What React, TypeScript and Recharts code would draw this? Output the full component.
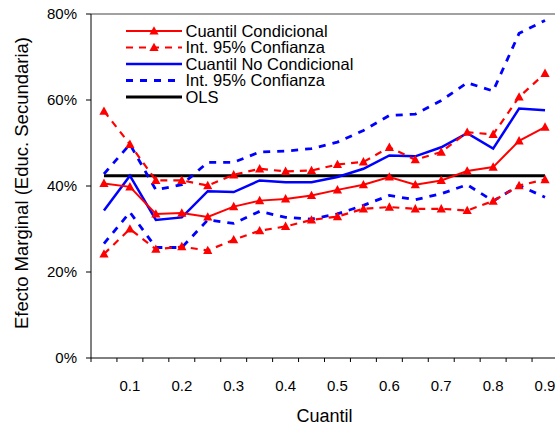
import React from "react";
import { LineChart, Line, XAxis, YAxis, ReferenceLine, Legend } from "recharts";

const quantiles = [0.05, 0.1, 0.15, 0.2, 0.25, 0.3, 0.35, 0.4, 0.45, 0.5, 0.55, 0.6, 0.65, 0.7, 0.75, 0.8, 0.85, 0.9];
const condicional = [0.406, 0.398, 0.335, 0.337, 0.328, 0.352, 0.366, 0.37, 0.378, 0.391, 0.403, 0.421, 0.403, 0.413, 0.435, 0.444, 0.505, 0.537];
const condUpper = [0.574, 0.497, 0.413, 0.413, 0.401, 0.426, 0.44, 0.434, 0.436, 0.45, 0.456, 0.49, 0.461, 0.479, 0.525, 0.52, 0.607, 0.662];
const condLower = [0.242, 0.3, 0.253, 0.259, 0.25, 0.275, 0.296, 0.306, 0.321, 0.329, 0.347, 0.351, 0.347, 0.347, 0.343, 0.365, 0.401, 0.415];
const noCondicional = [0.343, 0.424, 0.321, 0.327, 0.388, 0.386, 0.413, 0.409, 0.409, 0.421, 0.44, 0.471, 0.469, 0.49, 0.523, 0.487, 0.58, 0.576];
const noCondUpper = [0.428, 0.497, 0.391, 0.403, 0.455, 0.455, 0.479, 0.481, 0.487, 0.502, 0.529, 0.564, 0.567, 0.599, 0.64, 0.621, 0.755, 0.785];
const noCondLower = [0.266, 0.339, 0.257, 0.257, 0.321, 0.313, 0.341, 0.327, 0.323, 0.335, 0.355, 0.378, 0.368, 0.382, 0.403, 0.365, 0.401, 0.374];
const ols = [0.424, 0.424, 0.424, 0.424, 0.424, 0.424, 0.424, 0.424, 0.424, 0.424, 0.424, 0.424, 0.424, 0.424, 0.424, 0.424, 0.424, 0.424];

const xTickLabels = [0.1, 0.2, 0.3, 0.4, 0.5, 0.6, 0.7, 0.8, 0.9];
const xBoundaries = [0.025, 0.075, 0.125, 0.175, 0.225, 0.275, 0.325, 0.375, 0.425, 0.475, 0.525, 0.575, 0.625, 0.675, 0.725, 0.775, 0.825, 0.875, 0.925];
const yTicks = [0, 0.2, 0.4, 0.6, 0.8];

const legendItems = [
  { name: "Cuantil Condicional", color: "#FF0000", dash: undefined, marker: true, width: 2 },
  { name: "Int. 95% Confianza", color: "#FF0000", dash: "7 6", marker: true, width: 2.2 },
  { name: "Cuantil No Condicional", color: "#0000FF", dash: undefined, marker: false, width: 2.5 },
  { name: "Int. 95% Confianza", color: "#0000FF", dash: "7 7", marker: false, width: 2.8 },
  { name: "OLS", color: "#000000", dash: undefined, marker: false, width: 3 },
];

const data = quantiles.map((q, i) => ({
  q,
  cond: condicional[i],
  condUp: condUpper[i],
  condLo: condLower[i],
  unc: noCondicional[i],
  uncUp: noCondUpper[i],
  uncLo: noCondLower[i],
  ols: ols[i],
}));

const xTicks = [...xBoundaries, ...xTickLabels].sort((a, b) => a - b);
const FONT = "'Liberation Sans', Arial, sans-serif";

const near = (a: number, b: number) => Math.abs(a - b) < 1e-6;

const XTick = (props: any) => {
  const { x, y, payload } = props;
  const v = payload.value as number;
  const isBoundary = xBoundaries.some((b) => near(b, v));
  const isLabel = xTickLabels.some((l) => near(l, v));
  return (
    <g>
      {isBoundary && <line x1={x} x2={x} y1={y} y2={y + 4} stroke="#000" strokeWidth={1} />}
      {isLabel && (
        <text x={x} y={y + 22.5} dy="0.71em" textAnchor="middle" fontSize={15} fill="#000" fontFamily={FONT}>
          {v.toFixed(1)}
        </text>
      )}
    </g>
  );
};

const triangle = (color: string) => (props: any) => {
  const { cx, cy, index, dataKey } = props;
  if (cx == null || cy == null) return <g key={`${dataKey}-${index}`} />;
  return (
    <polygon
      key={`${dataKey}-${index}`}
      points={`${cx},${cy - 4.8} ${cx + 4.6},${cy + 3.6} ${cx - 4.6},${cy + 3.6}`}
      fill={color}
      stroke="none"
    />
  );
};

const LegendContent = () => (
  <svg width={400} height={120} style={{ position: "absolute", left: 0, top: 0, overflow: "visible" }}>
    {legendItems.map((it, i) => {
      const cy = 31 + i * 16.5;
      return (
        <g key={i}>
          <line x1={126} x2={182} y1={cy} y2={cy} stroke={it.color} strokeWidth={it.width} strokeDasharray={it.dash} />
          {it.marker && (
            <polygon points={`${154},${cy - 4.8} ${158.6},${cy + 3.6} ${149.4},${cy + 3.6}`} fill={it.color} />
          )}
          <text x={185.5} y={cy} dy="0.36em" fontSize={16.5} fill="#000" fontFamily={FONT}>
            {it.name}
          </text>
        </g>
      );
    })}
  </svg>
);

const YLabel = (props: any) => {
  const vb = props.viewBox || {};
  const cx = (vb.x ?? 0) + 28;
  const cy = (vb.y ?? 0) + (vb.height ?? 0) / 2 - 3;
  return (
    <text
      x={cx}
      y={cy}
      transform={`rotate(-90, ${cx}, ${cy})`}
      textAnchor="middle"
      fontSize={18.5}
      fill="#000"
      fontFamily={FONT}
    >
      Efecto Marginal (Educ. Secundaria)
    </text>
  );
};

export default function App() {
  return (
    <div style={{ position: "absolute", left: 0, top: 0, width: 555, height: 427, overflow: "hidden", background: "#fff" }}>
      <LineChart
        width={558}
        height={427}
        data={data}
        margin={{ top: 14, right: 0, left: 0, bottom: 0 }}
        style={{ fontFamily: FONT }}
      >
        <XAxis
          dataKey="q"
          type="number"
          domain={[0.025, 0.925]}
          ticks={xTicks}
          interval={0}
          tickSize={0}
          tickMargin={0}
          tick={<XTick />}
          axisLine={{ stroke: "#000", strokeWidth: 1 }}
          height={69}
          label={{ value: "Cuantil", position: "insideBottom", offset: 5, fontSize: 18, fill: "#000" }}
        />
        <YAxis
          type="number"
          domain={[0, 0.8]}
          ticks={yTicks}
          interval={0}
          width={91}
          tickSize={5}
          tickMargin={9}
          tick={{ fontSize: 15, fill: "#000" }}
          tickLine={{ stroke: "#000" }}
          axisLine={{ stroke: "#000", strokeWidth: 1 }}
          tickFormatter={(v: number) => `${Math.round(v * 100)}%`}
          label={<YLabel />}
        />
        <ReferenceLine y={0.8} stroke="#444" strokeWidth={1.2} ifOverflow="extendDomain" />
        <Line dataKey="ols" name="OLS" stroke="#000" strokeWidth={3} dot={false} activeDot={false} isAnimationActive={false} />
        <Line dataKey="uncUp" name="Int. 95% Confianza" stroke="#0000FF" strokeWidth={2.8} strokeDasharray="7 7" dot={false} activeDot={false} isAnimationActive={false} />
        <Line dataKey="uncLo" name="Int. 95% Confianza (inf)" stroke="#0000FF" strokeWidth={2.8} strokeDasharray="7 7" dot={false} activeDot={false} isAnimationActive={false} />
        <Line dataKey="unc" name="Cuantil No Condicional" stroke="#0000FF" strokeWidth={2.5} dot={false} activeDot={false} isAnimationActive={false} />
        <Line dataKey="condUp" name="Int. 95% Confianza" stroke="#FF0000" strokeWidth={2.2} strokeDasharray="7 6" dot={triangle("#FF0000")} activeDot={false} isAnimationActive={false} />
        <Line dataKey="condLo" name="Int. 95% Confianza (inf)" stroke="#FF0000" strokeWidth={2.2} strokeDasharray="7 6" dot={triangle("#FF0000")} activeDot={false} isAnimationActive={false} />
        <Line dataKey="cond" name="Cuantil Condicional" stroke="#FF0000" strokeWidth={2} dot={triangle("#FF0000")} activeDot={false} isAnimationActive={false} />
        <Legend
          layout="vertical"
          align="center"
          verticalAlign="middle"
          content={<LegendContent />}
          wrapperStyle={{ position: "absolute", left: 0, top: 0, width: 400, height: 120 }}
        />
      </LineChart>
    </div>
  );
}
